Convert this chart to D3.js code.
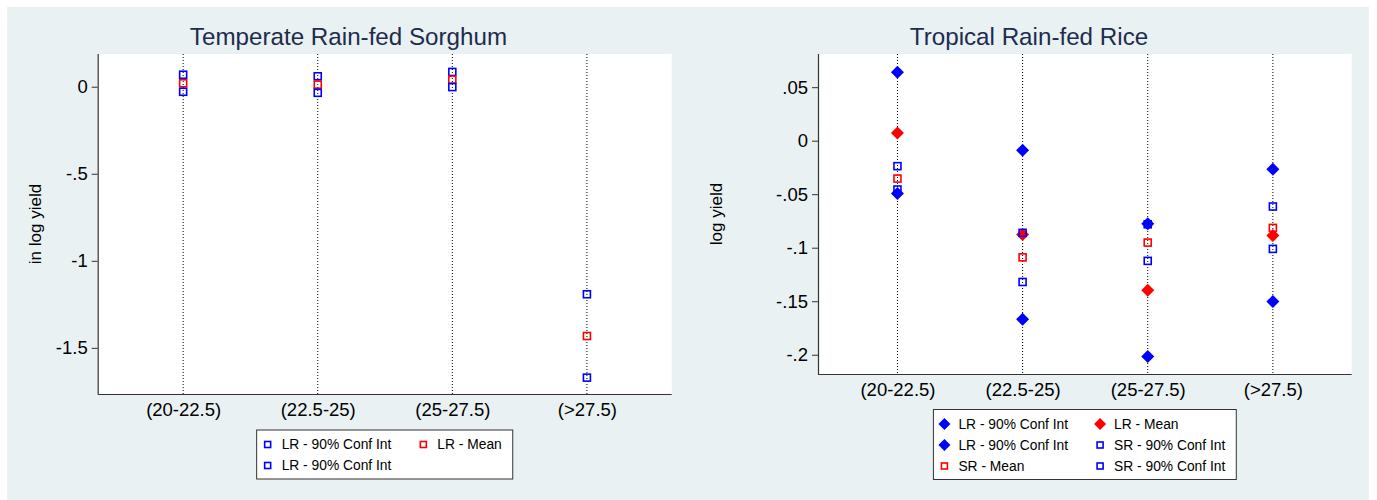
<!DOCTYPE html>
<html>
<head>
<meta charset="utf-8">
<script src="https://cdn.jsdelivr.net/npm/d3@7"></script>
<style>
  html, body { margin: 0; padding: 0; background: #ffffff; }
  svg { display: block; font-family: "Liberation Sans", Arial, sans-serif; }
</style>
</head>
<body>
<svg id="chart" width="1377" height="500"></svg>
<script>
// Temperature bins shared by both panels
const categories = ["(20-22.5)", "(22.5-25)", "(25-27.5)", "(>27.5)"];

// Temperate rain-fed sorghum: LR estimates
const sorghumUpper = [0.069, 0.060, 0.085, -1.192];
const sorghumMean  = [0.020, 0.012, 0.041, -1.432];
const sorghumLower = [-0.029, -0.035, -0.002, -1.671];
const sorghumTicks = [0, -0.5, -1, -1.5];
const sorghumTickLabels = ["0", "-.5", "-1", "-1.5"];

// Tropical rain-fed rice: LR and SR estimates
const riceLRUpper = [0.064, -0.009, -0.0777, -0.0266];
const riceLRMean  = [0.0073, -0.0877, -0.1397, -0.0886];
const riceLRLower = [-0.0494, -0.1668, -0.2017, -0.1503];
const riceSRUpper = [-0.0238, -0.0861, -0.0781, -0.0615];
const riceSRMean  = [-0.0354, -0.109, -0.0952, -0.0815];
const riceSRLower = [-0.0456, -0.132, -0.1123, -0.1011];
const riceTicks = [0.05, 0, -0.05, -0.1, -0.15, -0.2];
const riceTickLabels = [".05", "0", "-.05", "-.1", "-.15", "-.2"];

const BLUE = "#0000ff", RED = "#ff0000";
const svg = d3.select("#chart");

// Page background
svg.append("rect").attr("width", 1377).attr("height", 500).attr("fill", "#ffffff");
svg.append("rect").attr("x", 7).attr("y", 7).attr("width", 1362).attr("height", 493).attr("fill", "#e9f1f3");

function marker(sel, shape, color, legend) {
  if (shape === "diamond") {
    const r = legend ? 6 : 6.5;
    sel.append("path")
      .attr("d", `M0,${-r}L${r},0L0,${r}L${-r},0Z`)
      .attr("fill", color);
  } else {
    const s = legend ? 6 : 7;
    sel.append("rect")
      .attr("x", -s / 2).attr("y", -s / 2).attr("width", s).attr("height", s)
      .attr("fill", "none").attr("stroke", color).attr("stroke-width", 1.6);
  }
}

function drawPanel(cfg) {
  const g = svg.append("g");
  const x = d3.scaleLinear().domain([0.365, 4.63]).range([cfg.left, cfg.right]);
  const y = d3.scaleLinear().domain(cfg.yDomain).range([cfg.bottom, cfg.top]);

  // Title
  g.append("text")
    .attr("x", cfg.titleX).attr("y", 45)
    .attr("text-anchor", "middle")
    .attr("font-size", 24.2).attr("fill", "#1e2c4e")
    .text(cfg.title);

  // Plot region
  g.append("rect")
    .attr("x", cfg.left).attr("y", cfg.top)
    .attr("width", cfg.right - cfg.left).attr("height", cfg.bottom - cfg.top)
    .attr("fill", "#ffffff");

  // Dotted reference lines at each bin
  g.append("g").selectAll("line").data(categories).join("line")
    .attr("x1", (d, i) => x(i + 1)).attr("x2", (d, i) => x(i + 1))
    .attr("y1", cfg.top).attr("y2", cfg.bottom)
    .attr("stroke", "#000").attr("stroke-width", 1)
    .attr("stroke-dasharray", "1,2");

  // Y axis
  const yAxis = d3.axisLeft(y)
    .tickValues(cfg.ticks)
    .tickFormat((d, i) => cfg.tickLabels[i])
    .tickSize(6).tickPadding(4);
  const ya = g.append("g").attr("transform", `translate(${cfg.left},0)`).call(yAxis);
  ya.select(".domain").attr("stroke", "#333").attr("stroke-width", 1.2)
    .attr("d", `M0.5,${cfg.top}V${cfg.bottom}`);
  ya.selectAll(".tick line").attr("stroke", "#333");
  ya.selectAll(".tick text").attr("font-size", 18.5).attr("fill", "#000")
    .attr("font-family", "'Liberation Sans', Arial, sans-serif");

  // X axis: labels only
  const xAxis = d3.axisBottom(x)
    .tickValues([1, 2, 3, 4])
    .tickFormat((d) => categories[d - 1])
    .tickSize(0).tickPadding(0);
  const xa = g.append("g").attr("transform", `translate(0,${cfg.bottom})`).call(xAxis);
  xa.select(".domain").attr("stroke", "#333").attr("stroke-width", 1.2)
    .attr("d", `M${cfg.left},0.5H${cfg.right}`);
  xa.selectAll(".tick text").attr("font-size", 18.5).attr("fill", "#000")
    .attr("font-family", "'Liberation Sans', Arial, sans-serif")
    .attr("dy", null).attr("y", cfg.xLabelOffset)
    .attr("dominant-baseline", "central");

  // Y axis title
  g.append("text")
    .attr("transform", `translate(${cfg.yTitleX},${(cfg.top + cfg.bottom) / 2}) rotate(-90)`)
    .attr("text-anchor", "middle").attr("dominant-baseline", "central")
    .attr("font-size", 17).attr("fill", "#000")
    .text(cfg.yTitle);

  // Markers: diamonds first, then hollow squares on top
  const order = cfg.series.slice().sort((a, b) =>
    (a.shape === "diamond" ? 0 : 1) - (b.shape === "diamond" ? 0 : 1));
  order.forEach((s) => {
    g.append("g").selectAll("g").data(s.values).join("g")
      .attr("transform", (d, i) => `translate(${x(i + 1)},${y(d)})`)
      .each(function () { marker(d3.select(this), s.shape, s.color, false); });
  });

  // Legend
  const lg = g.append("g");
  const rowH = 21;
  const nRows = Math.ceil(cfg.series.length / 2);
  const box = lg.append("rect").attr("fill", "#fff").attr("stroke", "#333").attr("stroke-width", 1);
  let maxW = [0, 0];
  const items = lg.selectAll("g.item").data(cfg.series).join("g").attr("class", "item");
  items.append("text")
    .attr("font-size", 13.8).attr("fill", "#000")
    .attr("dominant-baseline", "central")
    .attr("x", 25)
    .text((d) => d.label)
    .each(function (d, i) {
      maxW[i % 2] = Math.max(maxW[i % 2], this.getComputedTextLength());
    });
  const col2 = 25 + maxW[0] + 21;
  const boxW = col2 + 25 + maxW[1] + 11;
  const boxH = nRows * rowH + 7;
  const cx = (cfg.left + cfg.right) / 2;
  const bx = cx - boxW / 2, by = cfg.legendTop;
  box.attr("x", bx).attr("y", by).attr("width", boxW).attr("height", boxH);
  items.attr("transform", (d, i) =>
    `translate(${bx + (i % 2 ? col2 : 0)},${by + 14.5 + Math.floor(i / 2) * rowH})`);
  items.append("g").attr("transform", "translate(11,0)")
    .each(function (d) { marker(d3.select(this), d.shape, d.color, true); });
}

drawPanel({
  title: "Temperate Rain-fed Sorghum", titleX: 348.5,
  left: 97.7, right: 671.7, top: 54, bottom: 394,
  yDomain: [-1.765, 0.188],
  ticks: sorghumTicks, tickLabels: sorghumTickLabels,
  yTitle: "in log yield", yTitleX: 35,
  xLabelOffset: 15.5, legendTop: 430,
  series: [
    { label: "LR - 90% Conf Int", shape: "square", color: BLUE, values: sorghumUpper },
    { label: "LR - Mean", shape: "square", color: RED, values: sorghumMean },
    { label: "LR - 90% Conf Int", shape: "square", color: BLUE, values: sorghumLower }
  ]
});

drawPanel({
  title: "Tropical Rain-fed Rice", titleX: 1029,
  left: 818, right: 1351.7, top: 54, bottom: 374,
  yDomain: [-0.218, 0.081],
  ticks: riceTicks, tickLabels: riceTickLabels,
  yTitle: "log yield", yTitleX: 716,
  xLabelOffset: 15.5, legendTop: 409.5,
  series: [
    { label: "LR - 90% Conf Int", shape: "diamond", color: BLUE, values: riceLRUpper },
    { label: "LR - Mean", shape: "diamond", color: RED, values: riceLRMean },
    { label: "LR - 90% Conf Int", shape: "diamond", color: BLUE, values: riceLRLower },
    { label: "SR - 90% Conf Int", shape: "square", color: BLUE, values: riceSRUpper },
    { label: "SR - Mean", shape: "square", color: RED, values: riceSRMean },
    { label: "SR - 90% Conf Int", shape: "square", color: BLUE, values: riceSRLower }
  ]
});
</script>
</body>
</html>
